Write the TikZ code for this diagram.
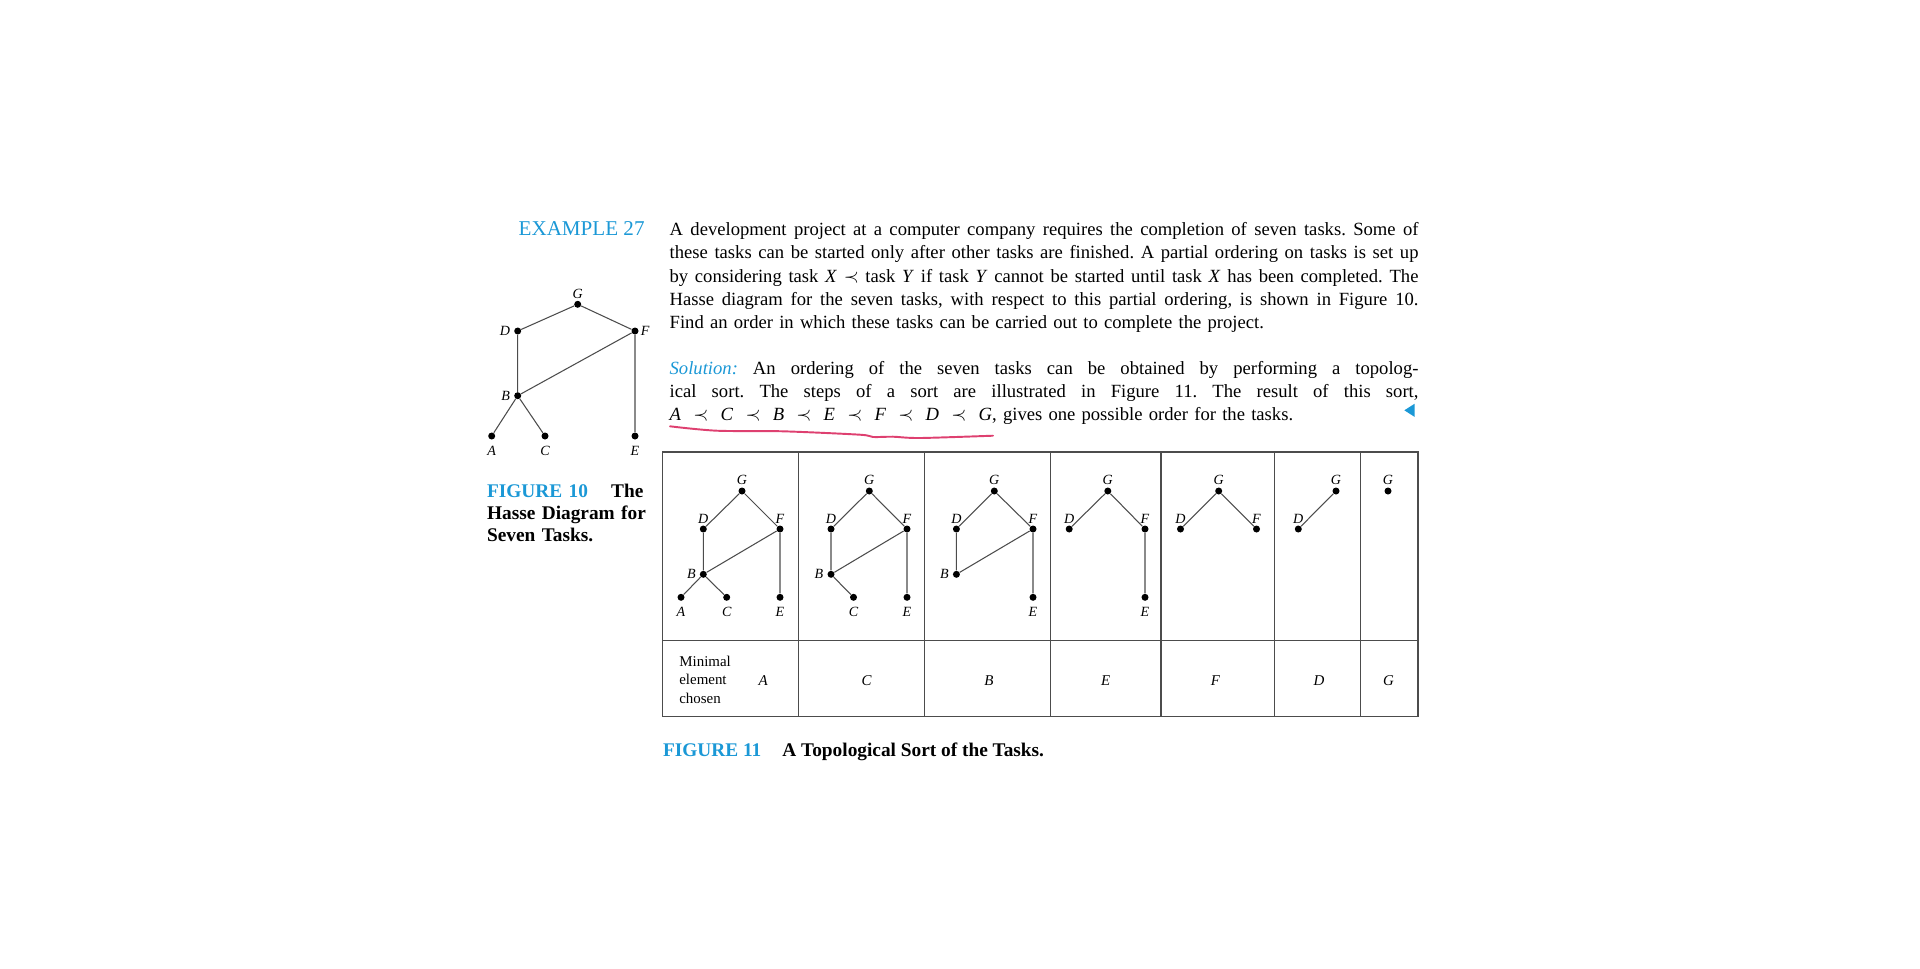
\documentclass[tikz,border=0pt]{standalone}
\usepackage{fontspec}
\setmainfont{Liberation Serif}
\usepackage{tikz}
\usetikzlibrary{positioning}
\definecolor{exblue}{RGB}{27,152,214}
\definecolor{markpink}{RGB}{222,64,112}
\frenchspacing
\newcommand{\jline}[1]{\hbox to 14.98cm{\spaceskip=0.25em plus 1em minus 0.08em\relax #1}}
\newcommand{\precsp}{\hspace{0.66em}$\prec$\hspace{0.66em}}
\tikzset{
  dot/.style={circle, fill=black, inner sep=0pt, minimum size=0.14cm},
  lbl/.style={font=\fontsize{8}{9}\selectfont\itshape, inner sep=1pt},
  up/.style={label={[lbl]above:#1}},
  dn/.style={label={[lbl,yshift=-2.5pt]below:#1}},
  lt/.style={label={[lbl,xshift=-1pt]left:#1}},
  rt/.style={label={[lbl]right:#1}},
  link/.style={draw=black!70, line width=0.6pt},
  cell/.style={draw=black!70, line width=0.8pt},
  txt/.style={inner sep=0pt, anchor=base west},
  chosen/.style={inner sep=0pt, anchor=base, font=\fontsize{8.5}{10.4}\selectfont\itshape},
}

\begin{document}
\begin{tikzpicture}[x=0.02cm, y=-0.02cm]
    \useasboundingbox (0,0) rectangle (1920,968);

    % Text
    \node[txt, text=exblue, font=\fontsize{12}{14}\selectfont] (example) at (518.3,235.7) {EXAMPLE 27};
    \node[txt, text width=14.98cm, font=\fontsize{10.6}{13.18}\selectfont] (body) at (669.3,235.7) {%
        \jline{A development project at a computer company requires the completion of seven tasks. Some of}
        \jline{these tasks can be started only after other tasks are finished. A partial ordering on tasks is set up}
        \jline{by considering task \textit{X} $\prec$ task \textit{Y} if task \textit{Y} cannot be started until task \textit{X} has been completed. The}
        \jline{Hasse diagram for the seven tasks, with respect to this partial ordering, is shown in Figure 10.}
        \hbox{Find an order in which these tasks can be carried out to complete the project.}};
    \node[txt, text width=14.98cm, font=\fontsize{10.6}{13.18}\selectfont] (solution) at (669.3,374) {%
        \jline{\textcolor{exblue}{\textit{Solution:}} An ordering of the seven tasks can be obtained by performing a topolog-}
        \jline{ical sort. The steps of a sort are illustrated in Figure 11. The result of this sort,}
        \hbox{\textit{A}\precsp\textit{C}\precsp\textit{B}\precsp\textit{E}\precsp\textit{F}\precsp\textit{D}\precsp\textit{G}, gives one possible order for the tasks.}};
    \fill[exblue] (1404.3,410.3) -- (1414.5,403.8) -- (1414.5,416.8) -- cycle;
    \draw[markpink, line width=1.1pt, line cap=round] plot[smooth] coordinates {(670,426.3) (716.7,430.7) (783,431.3) (860,434.7) (873,437) (893,436.7) (920,438) (993,435.7)};

    % Figure 10
    \node[dot, up=G] (G0) at (577.7,304.3) {};
    \node[dot, lt=D] (D0) at (517.7,331) {};
    \node[dot, rt=F] (F0) at (635,331) {};
    \node[dot, lt=B] (B0) at (517.7,395.7) {};
    \node[dot, dn=A] (A0) at (491.7,436) {};
    \node[dot, dn=C] (C0) at (545,436) {};
    \node[dot, dn=E] (E0) at (635,436) {};
    \draw[link] (A0) -- (B0) -- (C0);
    \draw[link] (B0) -- (D0) -- (G0) -- (F0) -- (E0);
    \draw[link] (B0) -- (F0);
    \node[txt, text width=3.2cm, align=left, font=\fontsize{11}{12.6}\selectfont\bfseries] (cap10) at (486.7,497.3)
        {\textcolor{exblue}{FIGURE 10}\hspace{1.2em}The\\Hasse Diagram for\\Seven Tasks.};

    % Figure 11 table
    \draw[cell] (662.5,451.8) rectangle (1418,716.3);
    \draw[cell] (662.5,640.4) -- (1418,640.4);
    \draw[cell] (798.4,451.8) -- (798.4,716.3) (924.5,451.8) -- (924.5,716.3)
        (1050.6,451.8) -- (1050.6,716.3) (1160.8,451.8) -- (1160.8,716.3)
        (1274.7,451.8) -- (1274.7,716.3) (1360.4,451.8) -- (1360.4,716.3);

    % Step 1
    \node[dot, up=G] (G1) at (742,491) {};
    \node[dot, up=D] (D1) at (703.3,529) {};
    \node[dot, up=F] (F1) at (780,529) {};
    \node[dot, lt=B] (B1) at (703.3,574.3) {};
    \node[dot, dn=A] (A1) at (681,597.3) {};
    \node[dot, dn=C] (C1) at (726.7,597.3) {};
    \node[dot, dn=E] (E1) at (780,597.3) {};
    \draw[link] (A1) -- (B1) -- (C1);
    \draw[link] (B1) -- (D1) -- (G1) -- (F1) -- (E1);
    \draw[link] (B1) -- (F1);

    % Step 2
    \node[dot, up=G] (G2) at (869.3,491) {};
    \node[dot, up=D] (D2) at (831,529) {};
    \node[dot, up=F] (F2) at (907,529) {};
    \node[dot, lt=B] (B2) at (831,574.3) {};
    \node[dot, dn=C] (C2) at (853.5,597.3) {};
    \node[dot, dn=E] (E2) at (907,597.3) {};
    \draw[link] (C2) -- (B2) -- (D2) -- (G2) -- (F2) -- (E2);
    \draw[link] (B2) -- (F2);

    % Step 3
    \node[dot, up=G] (G3) at (994.3,491) {};
    \node[dot, up=D] (D3) at (956.4,529) {};
    \node[dot, up=F] (F3) at (1033,529) {};
    \node[dot, lt=B] (B3) at (956.4,574.3) {};
    \node[dot, dn=E] (E3) at (1033,597.3) {};
    \draw[link] (B3) -- (D3) -- (G3) -- (F3) -- (E3);
    \draw[link] (B3) -- (F3);

    % Step 4
    \node[dot, up=G] (G4) at (1107.8,491) {};
    \node[dot, up=D] (D4) at (1069.2,529) {};
    \node[dot, up=F] (F4) at (1145,529) {};
    \node[dot, dn=E] (E4) at (1145,597.3) {};
    \draw[link] (D4) -- (G4) -- (F4) -- (E4);

    % Step 5
    \node[dot, up=G] (G5) at (1218.7,491) {};
    \node[dot, up=D] (D5) at (1180.5,529) {};
    \node[dot, up=F] (F5) at (1256.5,529) {};
    \draw[link] (D5) -- (G5) -- (F5);

    % Step 6
    \node[dot, up=G] (G6) at (1336,491) {};
    \node[dot, up=D] (D6) at (1298.3,529) {};
    \draw[link] (D6) -- (G6);

    % Step 7
    \node[dot, up=G] (G7) at (1388,491) {};

    % Minimal elements
    \node[txt, text width=2cm, align=left, font=\fontsize{8.5}{10.4}\selectfont] (minlabel) at (679,666.7)
        {Minimal\\element\\chosen};
    \node[chosen] (chA) at (763.3,685) {A};
    \node[chosen] (chC) at (866.7,685) {C};
    \node[chosen] (chB) at (989,685) {B};
    \node[chosen] (chE) at (1105.7,685) {E};
    \node[chosen] (chF) at (1215.5,685) {F};
    \node[chosen] (chD) at (1319,685) {D};
    \node[chosen] (chG) at (1388.6,685) {G};

    % Caption
    \node[txt, font=\fontsize{11}{13}\selectfont\bfseries] (cap11) at (662.7,756.7)
        {\textcolor{exblue}{FIGURE 11}\hspace{12pt}A Topological Sort of the Tasks.};
\end{tikzpicture}
\end{document}
